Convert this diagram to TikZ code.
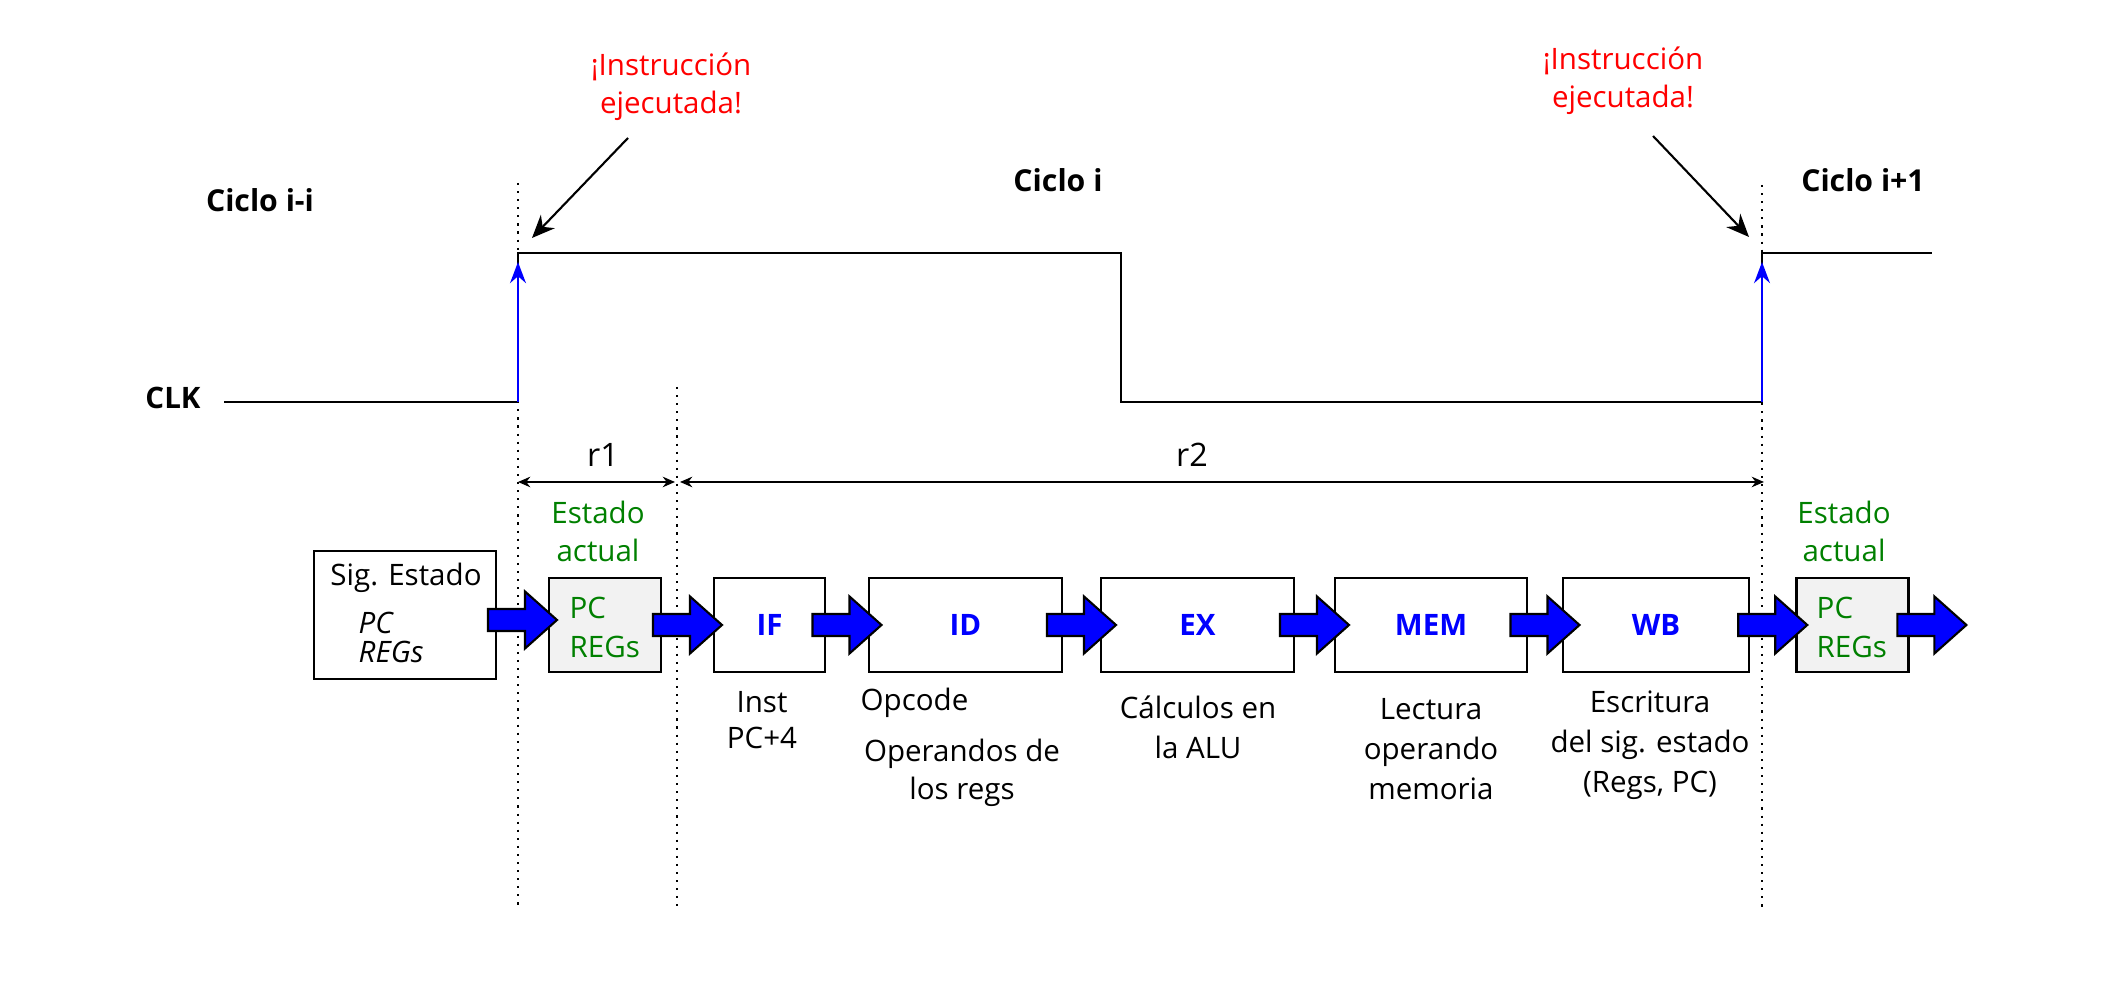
\documentclass[tikz,border=0pt]{standalone}
\usepackage{fontspec}
\setmainfont{Open Sans}
\usetikzlibrary{arrows.meta,calc}
\definecolor{verde}{RGB}{0,128,0}
\definecolor{gris}{RGB}{242,242,242}
\tikzset{
    every node/.style={inner sep=0mm, font=\fontsize{8.4}{11}\selectfont}
}
\tikzset{
    etapa/.style={draw, line width=0.8pt, minimum height=0.94cm, text=blue, font=\fontsize{8.4}{11}\selectfont\bfseries},
    estado/.style={draw, line width=0.8pt, fill=gris, minimum width=1.12cm, minimum height=0.94cm},
    ciclo/.style={font=\fontsize{8.6}{11}\selectfont\bfseries},
    nota/.style={align=center, text=red, font=\fontsize{8.4}{10.8}\selectfont},
    desc/.style={align=center, font=\fontsize{8.4}{11.4}\selectfont},
    punteada/.style={line width=0.6pt, dash pattern=on 0.6pt off 1.7pt},
    senal/.style={line width=0.65pt},
    flanco/.style={blue, line width=0.7pt, -{Stealth[length=6pt,width=4.5pt]}},
    aviso/.style={line width=0.6pt, -{Stealth[length=6.5pt,width=5.5pt]}},
    cota/.style={line width=0.45pt, {Stealth[length=3.5pt,width=3pt]}-{Stealth[length=3.5pt,width=3pt]}},
    pics/flecha/.style={code={
        \draw[fill=blue, line width=0.6pt] (-0.345,0.11) -- (0.025,0.11) -- (0.025,0.285)
            -- (0.345,0) -- (0.025,-0.285) -- (0.025,-0.11) -- (-0.345,-0.11) -- cycle;
    }}
}

\begin{document}
\begin{tikzpicture}
    \useasboundingbox (0,0) rectangle (21.07cm, 10.05cm);

    \node (clk) [font=\fontsize{8.4}{11}\selectfont\bfseries] at (1.73cm, 6.07cm) {CLK};
    \node (cprev) [ciclo] at (2.60cm, 8.05cm) {Ciclo i-i};
    \node (cact) [ciclo] at (10.58cm, 8.25cm) {Ciclo i};
    \node (csig) [ciclo] at (18.63cm, 8.25cm) {Ciclo i+1};

    \node (ins1) [nota] at (6.71cm, 9.18cm) {¡Instrucción\\ejecutada!};
    \node (ins2) [nota] at (16.23cm, 9.24cm) {¡Instrucción\\ejecutada!};

    \node (r1) [font=\fontsize{9.2}{11}\selectfont] at (6.03cm, 5.50cm) {r1};
    \node (r2) [font=\fontsize{9.2}{11}\selectfont] at (11.92cm, 5.50cm) {r2};

    \node (sig) [draw, line width=0.8pt, minimum width=1.82cm, minimum height=1.28cm] at (4.05cm, 3.90cm) {};
    \node (sigt) at (4.06cm, 4.27cm) {Sig. Estado};
    \node (sigr) [anchor=west, align=left, font=\fontsize{8.4}{8.25}\selectfont\itshape] at (3.58cm, 3.675cm) {PC\\REGs};

    \node (st1) [estado] at (6.05cm, 3.80cm) {};
    \node (st1t) [anchor=west, align=left, text=verde] at (5.69cm, 3.775cm) {PC\\REGs};
    \node (st1e) [align=center, text=verde] at (5.98cm, 4.735cm) {Estado\\actual};

    \node (if) [etapa, minimum width=1.11cm] at (7.695cm, 3.80cm) {IF};
    \node (id) [etapa, minimum width=1.93cm] at (9.655cm, 3.80cm) {ID};
    \node (ex) [etapa, minimum width=1.93cm] at (11.975cm, 3.80cm) {EX};
    \node (mem) [etapa, minimum width=1.92cm] at (14.31cm, 3.80cm) {MEM};
    \node (wb) [etapa, minimum width=1.86cm] at (16.56cm, 3.80cm) {WB};

    \node (st2) [estado] at (18.525cm, 3.80cm) {};
    \node (st2t) [anchor=west, align=left, text=verde] at (18.16cm, 3.775cm) {PC\\REGs};
    \node (st2e) [align=center, text=verde] at (18.44cm, 4.735cm) {Estado\\actual};

    \node (ifd) [desc, align=center, font=\fontsize{8.4}{10.2}\selectfont] at (7.62cm, 2.85cm) {Inst\\PC+4};
    \node (idd1) [anchor=west] at (8.60cm, 3.02cm) {Opcode};
    \node (idd2) [desc, font=\fontsize{8.4}{10.8}\selectfont] at (9.62cm, 2.32cm) {Operandos de\\los regs};
    \node (exd) [desc] at (11.98cm, 2.78cm) {Cálculos en\\la ALU};
    \node (memd) [desc] at (14.31cm, 2.56cm) {Lectura\\operando\\memoria};
    \node (wbd) [desc] at (16.50cm, 2.60cm) {Escritura\\del sig. estado\\(Regs, PC)};

    \coordinate (w0) at (2.24cm, 6.03cm);
    \coordinate (w1) at (5.18cm, 6.03cm);
    \coordinate (w2) at (5.18cm, 7.52cm);
    \coordinate (w3) at (11.21cm, 7.52cm);
    \coordinate (w4) at (11.21cm, 6.03cm);
    \coordinate (w5) at (17.62cm, 6.03cm);
    \coordinate (w6) at (17.62cm, 7.52cm);
    \coordinate (w7) at (19.32cm, 7.52cm);

    \coordinate (t1a) at (5.18cm, 8.22cm);
    \coordinate (t1b) at (5.18cm, 0.98cm);
    \coordinate (t2a) at (6.77cm, 6.18cm);
    \coordinate (t2b) at (6.77cm, 0.97cm);
    \coordinate (t3a) at (17.62cm, 8.20cm);
    \coordinate (t3b) at (17.62cm, 0.98cm);

    \coordinate (d1a) at (5.18cm, 5.23cm);
    \coordinate (d1b) at (6.75cm, 5.23cm);
    \coordinate (d2a) at (6.80cm, 5.23cm);
    \coordinate (d2b) at (17.64cm, 5.23cm);

    \coordinate (a1) at (6.28cm, 8.67cm);
    \coordinate (a1f) at (5.32cm, 7.67cm);
    \coordinate (a2) at (16.53cm, 8.69cm);
    \coordinate (a2f) at (17.49cm, 7.68cm);

    \draw[punteada] (t1a) -- (t1b);
    \draw[punteada] (t2a) -- (t2b);
    \draw[punteada] (t3a) -- (t3b);

    \draw[senal] (w0) -- (w1) -- (w2) -- (w3) -- (w4) -- (w5) -- (w6) -- (w7);
    \draw[flanco, shorten >=0.09cm] (w1) -- (w2);
    \draw[flanco, shorten >=0.09cm] (w5) -- (w6);

    \draw[aviso] (a1) -- (a1f);
    \draw[aviso] (a2) -- (a2f);

    \draw[cota] (d1a) -- (d1b);
    \draw[cota] (d2a) -- (d2b);

    \pic at ($(sig.east)!.5!(st1.west)$) {flecha};
    \pic at ($(st1.east)!.5!(if.west)$) {flecha};
    \pic at ($(if.east)!.5!(id.west)$) {flecha};
    \pic at ($(id.east)!.5!(ex.west)$) {flecha};
    \pic at ($(ex.east)!.5!(mem.west)$) {flecha};
    \pic at ($(mem.east)!.5!(wb.west)$) {flecha};
    \pic at ($(wb.east)!.5!(st2.west)$) {flecha};
    \pic at ($(st2.east)+(0.22cm,0)$) {flecha};
\end{tikzpicture}
\end{document}
